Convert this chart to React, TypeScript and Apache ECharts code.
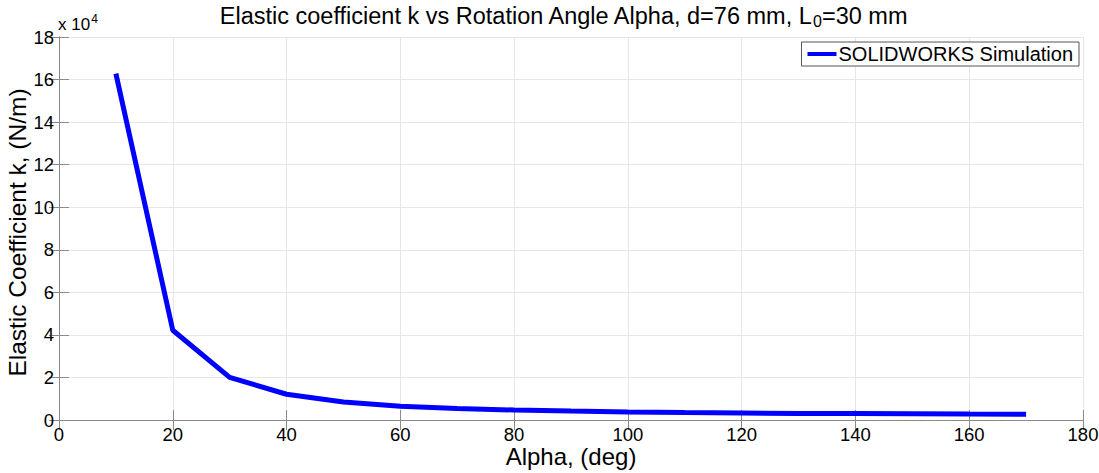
import React, { useEffect, useRef } from "react";
import * as echarts from "echarts";

const alphaDeg = [10, 20, 30, 40, 50, 60, 70, 80, 90, 100, 110, 120, 130, 140, 150, 160, 170];
const kValues = [162800, 42200, 20000, 12100, 8500, 6500, 5400, 4700, 4200, 3800, 3500, 3300, 3100, 3000, 2900, 2800, 2750];
const seriesName = "SOLIDWORKS Simulation";
const FONT = "Liberation Sans, Arial, sans-serif";

export default function App() {
  const ref = useRef<HTMLDivElement>(null);
  useEffect(() => {
    if (!ref.current) return;
    const chart = echarts.init(ref.current, null, { renderer: "svg" });
    const data = alphaDeg.map((a, i) => [a, kValues[i]]);
    const axisLine = { show: true, lineStyle: { color: "#8a8a8a", width: 1 } };
    const axisTick = { show: true, inside: true, length: 10, lineStyle: { color: "#8a8a8a" } };
    chart.setOption({
      animation: false,
      backgroundColor: "#ffffff",
      title: {
        text: "Elastic coefficient k vs Rotation Angle Alpha, d=76 mm, L{sub|0}=30 mm",
        left: 558,
        textAlign: "center",
        top: -3,
        textStyle: {
          fontFamily: FONT,
          fontSize: 23.5,
          fontWeight: "normal",
          color: "#000",
          rich: {
            sub: { fontFamily: FONT, fontSize: 16, verticalAlign: "bottom", padding: [11, 0, 0, 0], color: "#000" },
          },
        },
      },
      legend: {
        right: 20,
        top: 42,
        data: [seriesName],
        itemWidth: 29,
        itemHeight: 4,
        icon: "rect",
        borderColor: "#555",
        borderWidth: 1,
        backgroundColor: "#fff",
        padding: [2, 6, 2, 6],
        itemGap: 4,
        textStyle: { fontFamily: FONT, fontSize: 20, color: "#000", padding: [0, 0, 0, -3] },
      },
      graphic: [
        {
          type: "text",
          left: 58,
          top: 13,
          style: {
            text: "x 10{sup|4}",
            fontFamily: FONT,
            fontSize: 17,
            fill: "#000",
            rich: { sup: { fontSize: 12, verticalAlign: "top", padding: [0, 0, 10, 1], fontFamily: FONT } },
          },
        },
      ],
      grid: { left: 59, right: 16, top: 37, bottom: 53, containLabel: false, outerBoundsMode: "none" },
      xAxis: [
        {
          type: "value",
          min: 0,
          max: 180,
          interval: 20,
          name: "Alpha, (deg)",
          nameLocation: "middle",
          nameGap: 24,
          nameMoveOverlap: false,
          nameTextStyle: { fontFamily: FONT, fontSize: 24, lineHeight: 24, color: "#000" },
          axisLine,
          axisTick,
          axisLabel: { fontFamily: FONT, fontSize: 18.5, lineHeight: 18, color: "#000", margin: 5 },
          splitLine: { show: true, lineStyle: { color: "#e6e6e6", width: 1 } },
        },
        {
          type: "value",
          position: "top",
          min: 0,
          max: 180,
          interval: 20,
          axisLine,
          axisTick,
          axisLabel: { show: false },
          splitLine: { show: false },
        },
      ],
      yAxis: [
        {
          type: "value",
          min: 0,
          max: 180000,
          interval: 20000,
          name: "Elastic Coefficient k, (N/m)",
          nameLocation: "middle",
          nameGap: 29,
          nameMoveOverlap: false,
          nameTextStyle: { fontFamily: FONT, fontSize: 24.5, color: "#000", padding: [0, 8, 0, 0] },
          axisLine,
          axisTick,
          axisLabel: {
            fontFamily: FONT,
            fontSize: 18.5,
            color: "#000",
            margin: 5,
            formatter: (v: number) => String(Math.round(v / 10000)),
          },
          splitLine: { show: true, lineStyle: { color: "#e6e6e6", width: 1 } },
        },
        {
          type: "value",
          position: "right",
          min: 0,
          max: 180000,
          interval: 20000,
          axisLine,
          axisTick,
          axisLabel: { show: false },
          splitLine: { show: false },
        },
      ],
      series: [
        {
          name: seriesName,
          type: "line",
          data,
          showSymbol: false,
          symbol: "none",
          lineStyle: { color: "#0000ff", width: 5 },
          itemStyle: { color: "#0000ff" },
        },
      ],
    });
    return () => chart.dispose();
  }, []);
  return (
    <div
      ref={ref}
      style={{ position: "fixed", left: 0, top: 0, width: 1099, height: 473 }}
    />
  );
}
